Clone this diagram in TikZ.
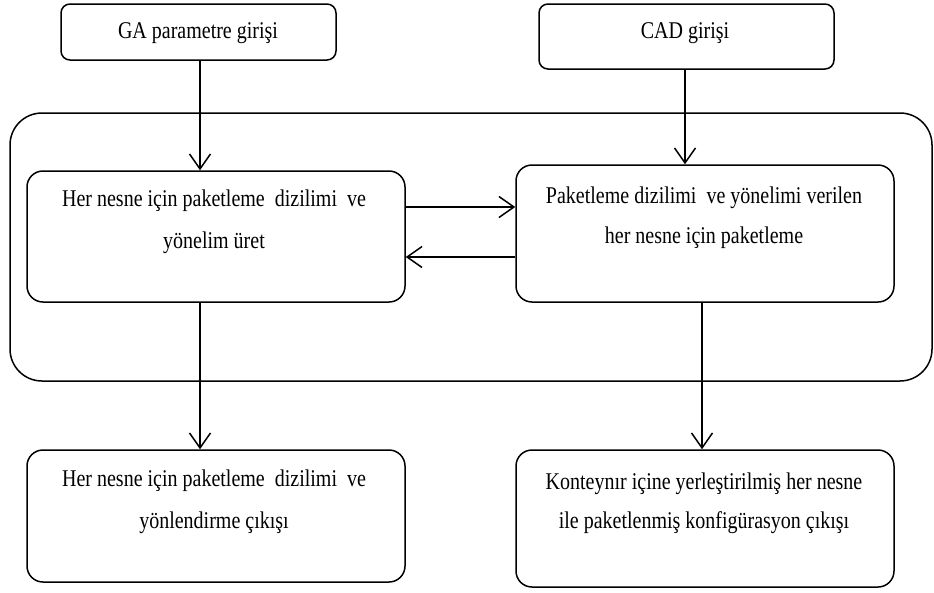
\documentclass[tikz,border=0pt]{standalone}
\usepackage{graphicx}
\usepackage{fontspec}
\setmainfont{Liberation Serif}
\usetikzlibrary{arrows.meta,calc}
\newcommand{\boxtext}[2]{\scalebox{1}[1.2]{\fontsize{20}{#1}\selectfont\begin{tabular}[t]{@{}c@{}}#2\end{tabular}}}
\begin{document}
\begin{tikzpicture}[x=1pt,y=-1pt,
  boxline/.style={draw=black,line width=1.5pt},
  smallbox/.style={boxline,rectangle,rounded corners=9pt,inner sep=0pt},
  bigbox/.style={boxline,rectangle,rounded corners=16pt,inner sep=0pt},
  frame/.style={boxline,rectangle,rounded corners=32pt,inner sep=0pt},
  label/.style={anchor=base,inner sep=0pt},
  arr/.style={line width=1.5pt,-{Straight Barb[length=15pt,width=21pt,line width=1.5pt]}}]
\useasboundingbox (0,0) rectangle (934,592);
% container
\node[frame,minimum width=922pt,minimum height=268pt] (frm) at (471,247) {};
% boxes
\node[smallbox,minimum width=275pt,minimum height=56pt] (ga) at (198.5,32) {};
\node[smallbox,minimum width=295pt,minimum height=65pt] (cad) at (686.5,36.5) {};
\node[bigbox,minimum width=378pt,minimum height=131pt] (A) at (216,236.5) {};
\node[bigbox,minimum width=378pt,minimum height=137pt] (B) at (705,233.5) {};
\node[bigbox,minimum width=378pt,minimum height=132pt] (C) at (216,516) {};
\node[bigbox,minimum width=378pt,minimum height=137pt] (D) at (705,518.5) {};
% texts
\node[label] (tga) at (198,38) {\boxtext{24}{GA parametre girişi}};
\node[label] (tcad) at (685,38) {\boxtext{24}{CAD girişi}};
\node[label] (tA) at (214,206) {\boxtext{35.4}{Her nesne için paketleme~ dizilimi~ ve\\yönelim üret}};
\node[label] (tB) at (704,203.5) {\boxtext{33.3}{Paketleme dizilimi~ ve yönelimi verilen\\her nesne için paketleme}};
\node[label] (tC) at (214,486) {\boxtext{35.8}{Her nesne için paketleme~ dizilimi~ ve\\yönlendirme çıkışı}};
\node[label] (tD) at (704,489) {\boxtext{32.9}{Konteynır içine yerleştirilmiş her nesne\\ile paketlenmiş konfigürasyon çıkışı}};
% connectors
\coordinate (x1) at (200,0);
\coordinate (x2) at (685,0);
\coordinate (x3) at (702,0);
\coordinate (y1) at (0,207);
\coordinate (y2) at (0,257);
\draw[arr] (ga.south -| x1) -- (A.north -| x1);
\draw[arr] (cad.south -| x2) -- (B.north -| x2);
\draw[arr] (A.south -| x1) -- (C.north -| x1);
\draw[arr] (B.south -| x3) -- (D.north -| x3);
\draw[arr] (A.east |- y1) -- (B.west |- y1);
\draw[arr] (B.west |- y2) -- (A.east |- y2);
\end{tikzpicture}
\end{document}
